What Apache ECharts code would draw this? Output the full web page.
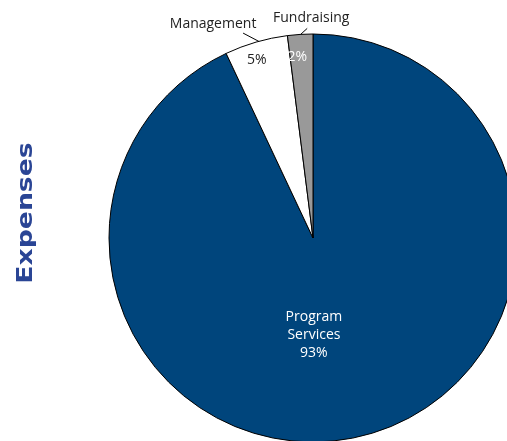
<!DOCTYPE html>
<html>
<head>
<meta charset="utf-8">
<script src="https://cdn.jsdelivr.net/npm/echarts@6/dist/echarts.min.js"></script>
<style>
html,body{margin:0;padding:0;background:#fff;}
#chart{width:507px;height:441px;}
</style>
</head>
<body>
<div id="chart"></div>
<script>
const categories = ['Program Services', 'Management', 'Fundraising'];
const shortLabels = ['Program\nServices', 'Management', 'Fundraising'];
const values = [93, 5, 2];
const sliceColors = ['#00457c', '#ffffff', '#999999'];
const pctColors = ['#ffffff', '#222222', '#ffffff'];
const titleText = 'Expenses';

const FONT = '"Open Sans", sans-serif';
// per-item inside label offsets (relative to default inside position)
const insideOffsets = [[-22, -5], [-27, -77], [-9, -76]];

const chart = echarts.init(document.getElementById('chart'));

const mainData = categories.map((c, i) => ({
  name: c,
  value: values[i],
  itemStyle: { color: sliceColors[i] },
  label: {
    color: pctColors[i],
    offset: insideOffsets[i],
    formatter: i === 0 ? shortLabels[0] + '\n' + values[0] + '%' : values[i] + '%'
  }
}));

const outerData = categories.map((c, i) => ({
  name: c,
  value: values[i],
  label: { show: i !== 0, formatter: shortLabels[i] },
  labelLine: { show: i !== 0 }
}));

const layoutRel = {
  1: { text: [-43, -18], line: [[6, 1], [-13, -9]] },
  2: { text: [11, -16], line: [[-5, 5], [7, -6]] }
};

chart.setOption({
  animation: false,
  graphic: [{
    type: 'text',
    x: 27, y: 213,
    rotation: Math.PI / 2,
    scaleX: 1.27,
    style: {
      text: titleText,
      fill: '#2a4595',
      font: 'bold 21px "DejaVu Sans", sans-serif',
      align: 'center',
      verticalAlign: 'middle'
    }
  }],
  series: [{
    type: 'pie',
    center: [313, 238],
    radius: 204,
    startAngle: 90,
    clockwise: true,
    silent: true,
    itemStyle: { borderColor: '#000', borderWidth: 1 },
    label: {
      show: true,
      position: 'inside',
      fontFamily: FONT,
      fontSize: 14,
      lineHeight: 18,
      align: 'center'
    },
    labelLine: { show: false },
    data: mainData
  }, {
    type: 'pie',
    center: [313, 238],
    radius: 204,
    startAngle: 90,
    clockwise: true,
    silent: true,
    itemStyle: { color: 'rgba(0,0,0,0)', borderWidth: 0 },
    label: {
      show: true,
      position: 'outside',
      fontFamily: FONT,
      fontSize: 14,
      color: '#222'
    },
    labelLine: { show: true, lineStyle: { color: '#000', width: 1 }, length: 10, length2: 5 },
    labelLayout: function (p) {
      const rel = layoutRel[p.dataIndex];
      if (!rel || !p.labelLinePoints) return {};
      const p0 = p.labelLinePoints[0];
      return {
        x: p0[0] + rel.text[0],
        y: p0[1] + rel.text[1],
        align: 'center',
        verticalAlign: 'middle',
        labelLinePoints: [
          [p0[0] + rel.line[0][0], p0[1] + rel.line[0][1]],
          [p0[0] + rel.line[1][0], p0[1] + rel.line[1][1]],
          [p0[0] + rel.line[1][0], p0[1] + rel.line[1][1]]
        ]
      };
    },
    data: outerData
  }]
});
</script>
</body>
</html>
